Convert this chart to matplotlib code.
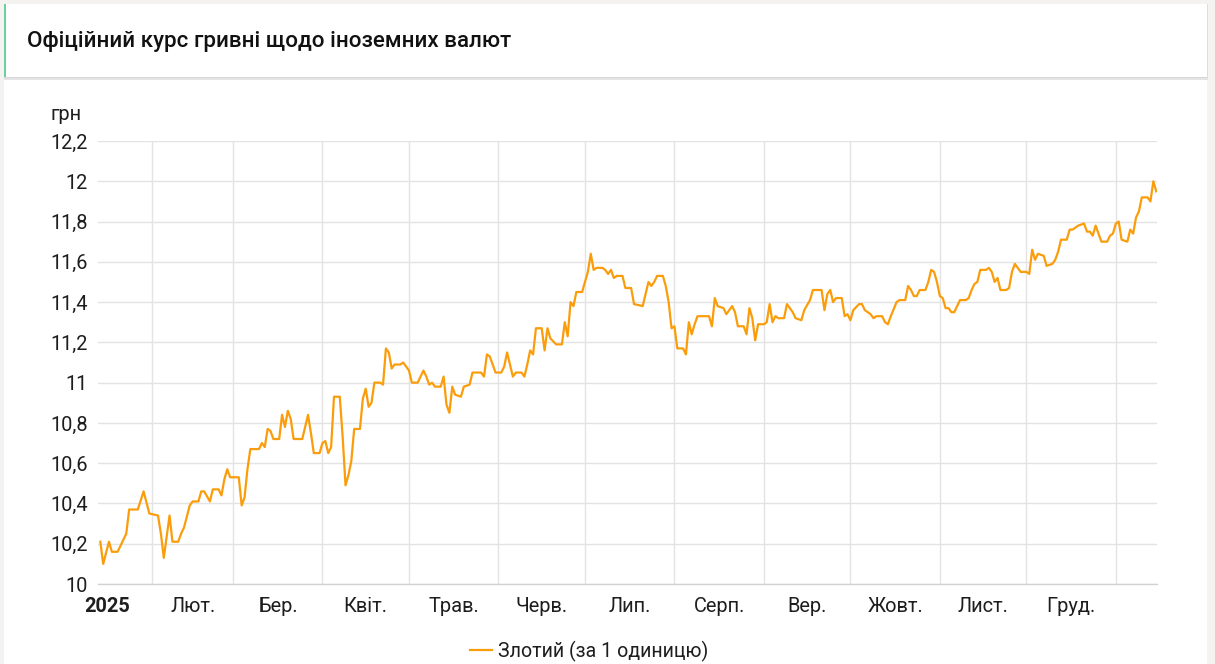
import matplotlib
matplotlib.use("Agg")
import matplotlib.pyplot as plt
from matplotlib.patches import Rectangle
from matplotlib.lines import Line2D
import pandas as pd
import numpy as np

# ---------------- data ----------------
start_date = "2025-01-01"
# day offsets since 2025-01-01
days = [13, 14, 16, 17, 19, 20, 22, 23, 26, 28, 30, 33, 34, 35, 37, 38, 40, 41, 42, 44,
        45, 47, 48, 49, 51, 52, 54, 55, 56, 57, 58, 61, 62, 63, 64, 65, 68, 69, 70, 71,
        72, 73, 75, 76, 77, 78, 79, 80, 83, 84, 85, 86, 87, 89, 90, 91, 92, 93, 94, 96,
        97, 98, 99, 100, 101, 103, 104, 105, 106, 107, 108, 110, 111, 112, 113, 114, 115, 117, 118, 120,
        121, 123, 125, 126, 127, 128, 129, 131, 132, 133, 134, 135, 136, 138, 139, 141, 142, 145, 146, 147,
        148, 150, 152, 153, 154, 156, 157, 159, 160, 161, 162, 163, 164, 166, 167, 168, 169, 171, 173, 174,
        175, 176, 177, 178, 180, 181, 182, 183, 184, 185, 187, 188, 189, 190, 191, 192, 194, 195, 197, 198,
        201, 202, 203, 204, 205, 206, 208, 209, 210, 211, 212, 213, 215, 216, 217, 218, 219, 220, 224, 225,
        226, 227, 229, 230, 232, 233, 234, 236, 237, 238, 239, 240, 241, 243, 244, 245, 246, 247, 248, 250,
        251, 253, 254, 256, 257, 259, 260, 263, 264, 265, 266, 267, 268, 270, 271, 272, 273, 274, 276, 277,
        278, 280, 281, 282, 284, 285, 286, 287, 289, 290, 292, 293, 294, 295, 296, 297, 299, 300, 301, 302,
        303, 304, 305, 306, 307, 308, 309, 311, 313, 314, 315, 316, 317, 318, 320, 321, 322, 323, 324, 325,
        327, 328, 329, 330, 331, 332, 334, 335, 336, 337, 338, 340, 341, 343, 344, 345, 346, 348, 349, 350,
        352, 354, 355, 356, 357, 358, 360, 362, 363, 364, 365, 366, 367, 369, 370, 371, 372, 373, 374, 376,
        377, 378, 379]
zloty = [10.21, 10.10, 10.21, 10.16, 10.16, 10.19, 10.25, 10.37, 10.37, 10.46, 10.35, 10.34, 10.25, 10.13, 10.34, 10.21, 10.21, 10.25, 10.28, 10.39,
         10.41, 10.41, 10.46, 10.46, 10.41, 10.47, 10.47, 10.44, 10.52, 10.57, 10.53, 10.53, 10.39, 10.43, 10.57, 10.67, 10.67, 10.70, 10.68, 10.77,
         10.76, 10.72, 10.72, 10.84, 10.78, 10.86, 10.82, 10.72, 10.72, 10.78, 10.84, 10.75, 10.65, 10.65, 10.70, 10.71, 10.65, 10.68, 10.93, 10.93,
         10.73, 10.49, 10.54, 10.61, 10.77, 10.77, 10.92, 10.97, 10.88, 10.90, 11.00, 11.00, 10.99, 11.17, 11.15, 11.07, 11.09, 11.09, 11.10, 11.06,
         11.00, 11.00, 11.06, 11.03, 10.99, 11.00, 10.98, 10.98, 11.03, 10.89, 10.85, 10.98, 10.94, 10.93, 10.98, 10.99, 11.05, 11.05, 11.03, 11.14,
         11.13, 11.05, 11.05, 11.08, 11.15, 11.03, 11.05, 11.05, 11.03, 11.09, 11.16, 11.14, 11.27, 11.27, 11.16, 11.27, 11.22, 11.19, 11.19, 11.30,
         11.23, 11.40, 11.38, 11.45, 11.45, 11.50, 11.55, 11.64, 11.56, 11.57, 11.57, 11.56, 11.54, 11.56, 11.52, 11.53, 11.53, 11.47, 11.47, 11.39,
         11.38, 11.44, 11.50, 11.48, 11.50, 11.53, 11.53, 11.48, 11.40, 11.27, 11.28, 11.17, 11.17, 11.14, 11.30, 11.24, 11.29, 11.33, 11.33, 11.28,
         11.42, 11.38, 11.37, 11.34, 11.38, 11.35, 11.28, 11.28, 11.24, 11.37, 11.32, 11.21, 11.29, 11.29, 11.30, 11.39, 11.30, 11.33, 11.32, 11.32,
         11.39, 11.35, 11.32, 11.31, 11.36, 11.41, 11.46, 11.46, 11.36, 11.44, 11.46, 11.40, 11.42, 11.42, 11.33, 11.34, 11.31, 11.36, 11.39, 11.39,
         11.36, 11.34, 11.32, 11.33, 11.33, 11.30, 11.29, 11.33, 11.40, 11.41, 11.41, 11.48, 11.46, 11.43, 11.43, 11.46, 11.46, 11.50, 11.56, 11.55,
         11.50, 11.43, 11.42, 11.37, 11.37, 11.35, 11.35, 11.41, 11.41, 11.42, 11.46, 11.49, 11.50, 11.56, 11.56, 11.57, 11.55, 11.50, 11.52, 11.46,
         11.46, 11.47, 11.55, 11.59, 11.57, 11.55, 11.55, 11.54, 11.66, 11.61, 11.64, 11.63, 11.58, 11.59, 11.61, 11.65, 11.71, 11.71, 11.76, 11.76,
         11.78, 11.79, 11.75, 11.75, 11.73, 11.78, 11.70, 11.70, 11.73, 11.74, 11.79, 11.80, 11.71, 11.70, 11.76, 11.74, 11.82, 11.85, 11.92, 11.92,
         11.90, 12.00, 11.95]

month_labels = ["2025", "Лют.", "Бер.", "Квіт.", "Трав.", "Черв.", "Лип.", "Серп.",
                "Вер.", "Жовт.", "Лист.", "Груд."]
y_ticks = [10.0, 10.2, 10.4, 10.6, 10.8, 11.0, 11.2, 11.4, 11.6, 11.8, 12.0, 12.2]
title = "Офіційний курс гривні щодо іноземних валют"
unit = "грн"
series_name = "Злотий (за 1 одиницю)"

# ---------------- figure ----------------
W, H = 1215, 664
plt.rcParams['font.family'] = ['Roboto', 'DejaVu Sans']
fig = plt.figure(figsize=(W / 100, H / 100), dpi=100)
fig.patch.set_facecolor('#f4f3f1')

def fr(x0, y0, x1, y1, color, z=0):
    fig.add_artist(Rectangle((x0 / W, 1 - y1 / H), (x1 - x0) / W, (y1 - y0) / H,
                             transform=fig.transFigure, facecolor=color,
                             edgecolor='none', zorder=z))

# chart card
fr(4, 80, 1207, 664, 'white', z=0)
# title box with shadow
fr(4, 78, 1208, 80, '#e4e4e4', z=0.5)
fr(4, 77, 1208, 78, '#d6d6d6', z=0.5)
fr(1207, 4, 1208, 78, '#dddddd', z=0.5)
fr(4, 4, 1207, 77, 'white', z=1)
fr(4, 4, 5.5, 77, '#6ccf9c', z=1.5)

fig.text(27 / W, 1 - 41 / H, title, fontsize=16.1, fontweight='medium',
         color='#111111', va='center', ha='left', zorder=3)

# ---------------- axes ----------------
left, right, top, bottom = 98, 1156.5, 141, 584
ax = fig.add_axes([left / W, 1 - bottom / H, (right - left) / W, (bottom - top) / H])
ax.set_facecolor('none')
ax.set_zorder(2)

t0 = pd.Timestamp(start_date)
dates = t0 + pd.to_timedelta(days, unit='D')
ax.plot(dates, zloty, color='#fb9d0b', lw=1.6, solid_joinstyle='round', zorder=3)

ax.set_ylim(10.0, 12.2)
ax.set_xlim(t0 + pd.Timedelta(days=12.2), t0 + pd.Timedelta(days=379.1))

ax.set_yticks(y_ticks)
ax.set_yticklabels([f"{v:g}".replace('.', ',') for v in y_ticks])
ax.grid(axis='y', color='#e3e3e3', lw=1)

month_starts = pd.date_range('2025-02-01', '2026-01-01', freq='MS')
ax.set_xticks(month_starts)
ax.set_xticklabels([])
ax.grid(axis='x', color='#e3e3e3', lw=1)
ax.set_axisbelow(True)

ax.tick_params(axis='y', length=0, pad=7.5, labelsize=14.4, labelcolor='#1e1e1e')
ax.tick_params(axis='x', length=0)
for s in ['top', 'right', 'left']:
    ax.spines[s].set_visible(False)
ax.spines['bottom'].set_color('#d2d2d2')
ax.spines['bottom'].set_linewidth(1)

# month labels at mid-month
all_starts = pd.date_range('2025-01-01', '2026-01-01', freq='MS')
for i, lab in enumerate(month_labels):
    mid = all_starts[i] + (all_starts[i + 1] - all_starts[i]) / 2
    ax.text(mid, -0.05, lab, transform=ax.get_xaxis_transform(), ha='center', va='center',
            fontsize=14.4, color='#1e1e1e', fontweight='bold' if i == 0 else 'normal')

fig.text(50 / W, 1 - 114 / H, unit, fontsize=14.4, color='#1e1e1e', va='center', ha='left')

handle = Line2D([], [], color='#fb9d0b', lw=1.6)
fig.legend([handle], [series_name], loc='center', bbox_to_anchor=(589 / W, 1 - 651 / H),
           frameon=False, fontsize=14.1, handlelength=1.15, handletextpad=0.3,
           labelcolor='#1e1e1e')

fig.savefig('out.png', dpi=100, facecolor=fig.get_facecolor())
